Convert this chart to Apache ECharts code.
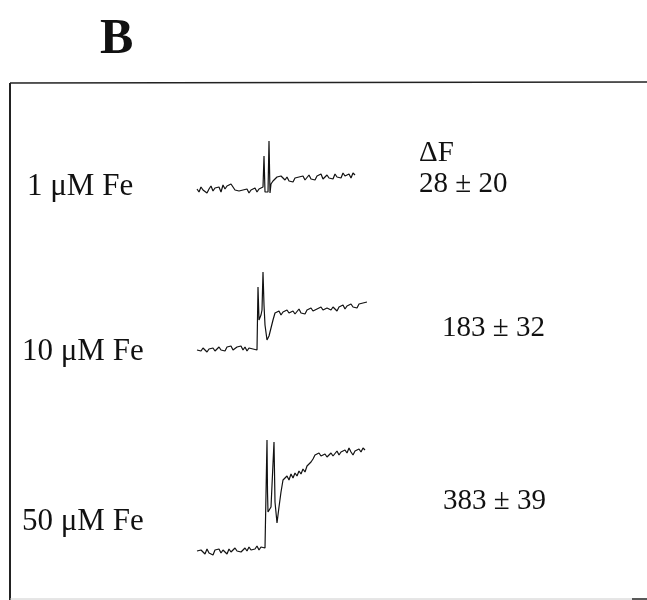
<!DOCTYPE html>
<html>
<head>
<meta charset="utf-8">
<script src="https://cdn.jsdelivr.net/npm/echarts@6/dist/echarts.min.js"></script>
<style>html,body{margin:0;padding:0;background:#fff;}#c{width:647px;height:600px;}</style>
</head>
<body>
<div id="c"></div>
<script>
// Concentration labels and ΔF results
const concLabels = ['1 \u03bcM Fe', '10 \u03bcM Fe', '50 \u03bcM Fe'];
const dFLabels = ['28 \u00b1 20', '183 \u00b1 32', '383 \u00b1 39'];

// Trace 1 (1 µM Fe): [time, fluorescence]
const pre1 = [1,-2,3,0,2,-3,1,4,-1,2,0,3,-2,5,1,4,2,6,3,0,2,-1,-3,0,-2,1,-3,0,-1,2,-2,1,0,3];
const spike1 = [[67,34],[68,-2],[70,0],[71,-2],[72,49],[73,-3],[74,6],[76,9]];
const post1 = [10,13,11,14,12,10,13,9,11,8,12,10,13,11,14,10,12,15,11,13,10,14,12,16,11,13,15,12,14,11,16,13,15,12,17,14,13,16,12,17,15];

// Trace 2 (10 µM Fe)
const pre2 = [0,1,-1,2,0,-2,1,0,2,-1,1,3,0,2,-1,3,1,4,0,2,3,1,4,0,3,-1,2,4,1,3,0];
const spike2 = [[61,63],[62,30],[64,35],[65,40],[66,78],[67,45],[68,25],[70,10],[72,14],[74,22],[76,30],[78,37]];
const post2 = [36,39,35,38,36,40,37,35,39,36,38,41,37,39,36,40,38,42,39,37,41,39,43,40,38,42,44,40,43,41,39,43,42,45,41,44,42,46,43,45,42,46,44,47,45,48];

// Trace 3 (50 µM Fe)
const pre3 = [1,-1,2,0,-2,3,-1,1,-3,2,0,3,-1,2,1,-2,3,0,2,4,1,3,0,2,4,1,5,2,4,3,6,2,5,3,4];
const spike3 = [[70,112],[70.5,60],[71,40],[74,45],[77,110],[78,50],[80,29],[82,45],[84,60],[86,72]];
const post3 = [70,76,72,78,74,79,76,81,78,83,80,86,84,90,93,97,95,99,96,94,98,95,97,99,96,98,101,97,100,98,102,99,104,100,97,101,99,103,100,104,102];

function build(pre, spike, post, postStart) {
  const d = [];
  pre.forEach((v, i) => d.push([i * 2, v]));
  spike.forEach(p => d.push(p));
  post.forEach((v, i) => d.push([postStart + i * 2, v]));
  return d;
}
const traces = [
  build(pre1, spike1, post1, 78),
  build(pre2, spike2, post2, 80),
  build(pre3, spike3, post3, 88)
];
const xMax = [158, 170, 168];
const yMin = [-10, -10, -10];
const yMax = [60, 90, 120];
const grids = [
  {left: 197, top: 130, width: 158, height: 70},
  {left: 197, top: 260, width: 170, height: 100},
  {left: 197, top: 432, width: 168, height: 130}
];

const serif = '"Liberation Serif", "DejaVu Serif", serif';
const chart = echarts.init(document.getElementById('c'));
// y given as text top; baseline ≈ top + 0.79*size
const txt = (x, baseline, s, size, weight) => ({
  type: 'text', x: x, y: baseline - Math.round(size * 0.79),
  style: {text: s, font: (weight || 'normal') + ' ' + size + 'px ' + serif, fill: '#111'}
});
chart.setOption({
  animation: false,
  grid: grids,
  xAxis: grids.map((g, i) => ({type: 'value', gridIndex: i, min: 0, max: xMax[i], show: false})),
  yAxis: grids.map((g, i) => ({type: 'value', gridIndex: i, min: yMin[i], max: yMax[i], show: false})),
  series: traces.map((d, i) => ({
    type: 'line', xAxisIndex: i, yAxisIndex: i, data: d, showSymbol: false,
    lineStyle: {color: '#111', width: 1.2}
  })),
  graphic: [
    txt(100, 55, 'B', 50, 'bold'),
    {type: 'line', shape: {x1: 10, y1: 83, x2: 647, y2: 82}, style: {stroke: '#222', lineWidth: 1.5}},
    {type: 'line', shape: {x1: 10, y1: 83, x2: 10, y2: 600}, style: {stroke: '#222', lineWidth: 2}},
    {type: 'line', shape: {x1: 10, y1: 599, x2: 632, y2: 599}, style: {stroke: '#ccc', lineWidth: 1}},
    {type: 'line', shape: {x1: 632, y1: 599, x2: 647, y2: 599}, style: {stroke: '#222', lineWidth: 1.5}},
    txt(27, 195, concLabels[0], 31),
    txt(22, 360, concLabels[1], 31),
    txt(22, 530, concLabels[2], 31),
    txt(419, 162, '\u0394F', 29),
    txt(419, 193, dFLabels[0], 29),
    txt(442, 337, dFLabels[1], 29),
    txt(443, 510, dFLabels[2], 29)
  ]
});
</script>
</body>
</html>
